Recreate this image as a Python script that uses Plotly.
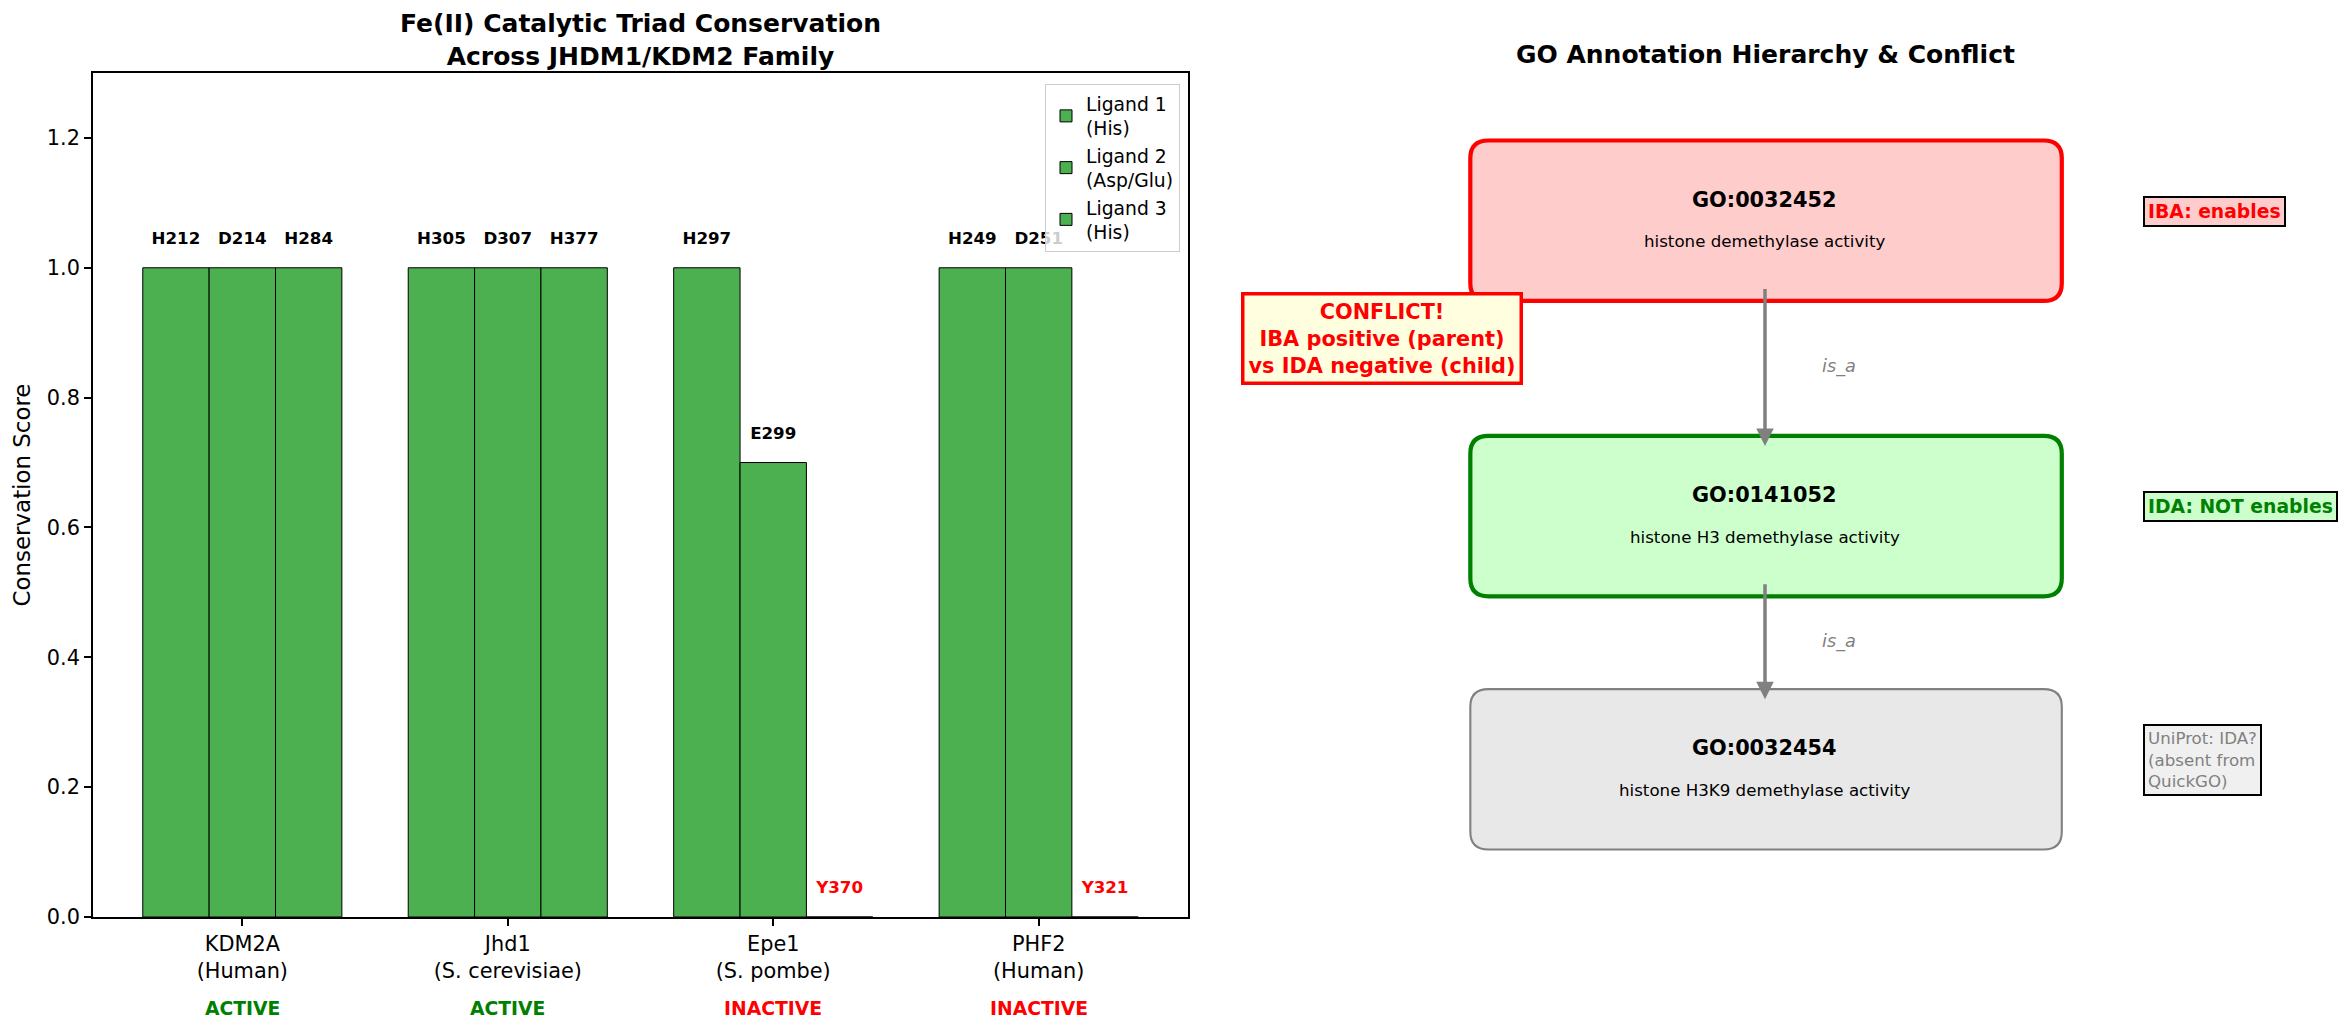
import plotly.graph_objects as go

# ---- bar chart data ----
species = ["KDM2A", "Jhd1", "Epe1", "PHF2"]
organisms = ["Human", "S. cerevisiae", "S. pombe", "Human"]
status = ["ACTIVE", "ACTIVE", "INACTIVE", "INACTIVE"]

ligand_names = ["Ligand 1<br>(His)", "Ligand 2<br>(Asp/Glu)", "Ligand 3<br>(His)"]
ligand1 = [1.0, 1.0, 1.0, 1.0]
ligand2 = [1.0, 1.0, 0.7, 1.0]
ligand3 = [1.0, 1.0, 0.0, 0.0]
residues1 = ["H212", "H305", "H297", "H249"]
residues2 = ["D214", "D307", "E299", "D251"]
residues3 = ["H284", "H377", "Y370", "Y321"]

# ---- GO hierarchy data ----
go_ids = ["GO:0032452", "GO:0141052", "GO:0032454"]
go_names = ["histone demethylase activity",
            "histone H3 demethylase activity",
            "histone H3K9 demethylase activity"]
evidence = ["IBA: enables", "IDA: NOT enables", "UniProt: IDA?<br>(absent from<br>QuickGO)"]
relation = "is_a"
conflict_text = "CONFLICT!<br>IBA positive (parent)<br>vs IDA negative (child)"

FONT = "DejaVu Sans"
PT = 150 / 72  # px per point
BAR_GREEN = "#4CAF50"

# page body adds an 8px margin on each side; keep the page inside the window
OFF = 8
W, H = 2349 - 2 * OFF, 1033 - 2 * OFF


def px(x):
    return (x - OFF) / W


def py(y):
    return 1 - (y - OFF) / H


fig = go.Figure()

width = 0.25
values = [ligand1, ligand2, ligand3]
residues = [residues1, residues2, residues3]
for j in range(3):
    xs = [i + (j - 1) * width for i in range(len(species))]
    fig.add_trace(go.Bar(
        x=xs, y=values[j], width=width, name=ligand_names[j],
        marker=dict(color=BAR_GREEN, line=dict(color="black", width=1)),
        xaxis="x", yaxis="y",
    ))
for j in range(3):
    xs = [i + (j - 1) * width for i in range(len(species))]
    fig.add_trace(go.Scatter(
        x=xs, y=[v + 0.03 for v in values[j]], mode="text",
        text=[f"<b>{r}</b>" for r in residues[j]],
        textposition="top center",
        textfont=dict(family=FONT, size=8 * PT,
                      color=["black" if v > 0 else "red" for v in values[j]]),
        showlegend=False, hoverinfo="skip", xaxis="x", yaxis="y",
    ))

# placeholder trace so the diagram axes exist
fig.add_trace(go.Scatter(x=[0, 10], y=[0, 10], mode="markers",
                         marker=dict(opacity=0), showlegend=False,
                         hoverinfo="skip", xaxis="x2", yaxis="y2"))

annotations = []
for i, s in enumerate(status):
    annotations.append(dict(
        x=i, y=py(1008), xref="x", yref="paper", text=f"<b>{s}</b>",
        xanchor="center", yanchor="middle", showarrow=False,
        font=dict(family=FONT, size=9 * PT,
                  color="green" if s == "ACTIVE" else "red"),
    ))

annotations.append(dict(
    x=px(640), y=py(40), xref="paper", yref="paper",
    xanchor="center", yanchor="middle",
    text="<b>Fe(II) Catalytic Triad Conservation<br>Across JHDM1/KDM2 Family</b>",
    showarrow=False, font=dict(family=FONT, size=12 * PT, color="black"),
))
annotations.append(dict(
    x=px(1765), y=py(54), xref="paper", yref="paper",
    xanchor="center", yanchor="middle",
    text="<b>GO Annotation Hierarchy & Conflict</b>",
    showarrow=False, font=dict(family=FONT, size=12 * PT, color="black"),
))

# ---- diagram ----
centers = [8.25, 4.75, 1.75]
fills = ["#FFCCCC", "#CCFFCC", "#E8E8E8"]
edges = ["red", "green", "gray"]
edge_w = [4.2, 4.2, 2.1]
ev_fill = ["#FFCCCC", "#CCFFCC", "#F0F0F0"]
ev_color = ["red", "green", "gray"]
ev_bold = [True, True, False]


def rounded_rect(x0, y0, x1, y1, rx, ry):
    return (f"M {x0 + rx},{y0} L {x1 - rx},{y0} Q {x1},{y0} {x1},{y0 + ry} "
            f"L {x1},{y1 - ry} Q {x1},{y1} {x1 - rx},{y1} L {x0 + rx},{y1} "
            f"Q {x0},{y1} {x0},{y1 - ry} L {x0},{y0 + ry} Q {x0},{y0} {x0 + rx},{y0} Z")


shapes = []
for k, c in enumerate(centers):
    shapes.append(dict(type="path", xref="x2", yref="y2",
                       path=rounded_rect(2.22, c - 0.95, 7.8, c + 0.95, 0.17, 0.21),
                       fillcolor=fills[k], line=dict(color=edges[k], width=edge_w[k]),
                       layer="below"))
    annotations.append(dict(x=5, y=c + 0.25, xref="x2", yref="y2",
                            text=f"<b>{go_ids[k]}</b>", showarrow=False,
                            font=dict(family=FONT, size=10 * PT, color="black")))
    annotations.append(dict(x=5, y=c - 0.25, xref="x2", yref="y2",
                            text=go_names[k], showarrow=False,
                            font=dict(family=FONT, size=8 * PT, color="black")))
    txt = f"<b>{evidence[k]}</b>" if ev_bold[k] else evidence[k]
    annotations.append(dict(x=8.57, y=c + 0.11, xref="x2", yref="y2", text=txt,
                            showarrow=False, xanchor="left", align="left",
                            bgcolor=ev_fill[k], bordercolor="black", borderwidth=2,
                            borderpad=3,
                            font=dict(family=FONT, size=(9 if ev_bold[k] else 8) * PT,
                                      color=ev_color[k])))

for k in range(len(centers) - 1):
    y_start = centers[k] - 0.79
    y_end = centers[k + 1] + 0.83
    annotations.append(dict(x=5, y=y_end, ax=5, ay=y_start, xref="x2", yref="y2",
                            axref="x2", ayref="y2", text="", showarrow=True,
                            arrowhead=2, arrowsize=1, arrowwidth=3.5,
                            arrowcolor="gray"))
    annotations.append(dict(x=5.7, y=(y_start + y_end) / 2, xref="x2", yref="y2",
                            text=f"<i>{relation}</i>", showarrow=False,
                            font=dict(family=FONT, size=8.5 * PT, color="gray")))

annotations.append(dict(x=1.39, y=6.85, xref="x2", yref="y2",
                        text=f"<b>{conflict_text}</b>", showarrow=False,
                        bgcolor="#FFFFE0", bordercolor="red", borderwidth=3.5,
                        borderpad=4,
                        font=dict(family=FONT, size=10 * PT, color="red")))

axis_style = dict(showline=True, linecolor="black", linewidth=1.7, mirror=True,
                  ticks="outside", ticklen=7, tickwidth=1.7, tickcolor="black",
                  showgrid=False, zeroline=False, automargin=False,
                  tickfont=dict(family=FONT, size=10 * PT, color="black"))

fig.update_layout(
    width=W, height=H,
    margin=dict(l=0, r=0, t=0, b=0),
    plot_bgcolor="white", paper_bgcolor="white",
    font=dict(family=FONT, color="black"),
    barmode="overlay",
    xaxis=dict(domain=[px(93), px(1188)], range=[-0.5625, 3.5625],
               tickvals=list(range(len(species))),
               ticktext=[f"{s}<br>({o})" for s, o in zip(species, organisms)],
               anchor="y", **axis_style),
    yaxis=dict(domain=[py(917), py(73)], range=[0, 1.3],
               tickvals=[0, 0.2, 0.4, 0.6, 0.8, 1.0, 1.2],
               ticktext=[f"{v:.1f}" for v in [0, 0.2, 0.4, 0.6, 0.8, 1.0, 1.2]],
               title=dict(text="Conservation Score", standoff=10,
                          font=dict(family=FONT, size=11 * PT, color="black")),
               anchor="x", **axis_style),
    xaxis2=dict(domain=[px(1235), px(2295)], range=[0, 10], visible=False,
                anchor="y2", automargin=False),
    yaxis2=dict(domain=[py(917), py(73)], range=[0, 10], visible=False,
                anchor="x2", automargin=False),
    legend=dict(x=px(1180), y=py(84), xanchor="right", yanchor="top",
                bgcolor="rgba(255,255,255,0.8)", bordercolor="#CCCCCC",
                borderwidth=1, font=dict(family=FONT, size=9 * PT, color="black")),
    shapes=shapes,
    annotations=annotations,
)

fig.write_html("out.html")
